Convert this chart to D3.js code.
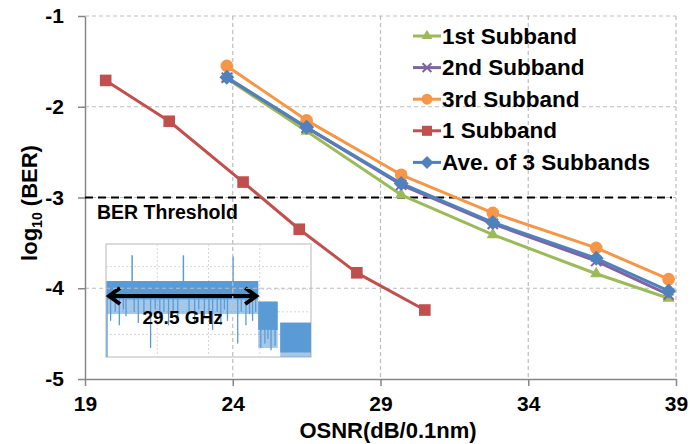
<!DOCTYPE html>
<html><head><meta charset="utf-8">
<script src="https://cdn.jsdelivr.net/npm/d3@7"></script>
<style>body{margin:0;background:#fff}svg{display:block;font-family:"Liberation Sans",Arial,sans-serif;font-weight:bold}</style>
</head><body><svg id="c" width="690" height="444"></svg>
<script>
// ---- data ----
const xTicks = [19, 24, 29, 34, 39];
const yTicks = [-1, -2, -3, -4, -5];
const osnrSub = [23.8, 26.5, 29.7, 32.8, 36.3, 38.75];
const ber1st = [-1.69, -2.27, -2.97, -3.41, -3.84, -4.11];
const ber2nd = [-1.68, -2.23, -2.86, -3.29, -3.70, -4.07];
const ber3rd = [-1.55, -2.15, -2.75, -3.17, -3.555, -3.90];
const osnr1 = [19.7, 21.85, 24.35, 26.25, 28.2, 30.5];
const ber1 = [-1.71, -2.16, -2.83, -3.35, -3.83, -4.24];
const berAve = [-1.675, -2.225, -2.845, -3.275, -3.67, -4.03];
const seriesNames = ["1st Subband", "2nd Subband", "3rd Subband", "1 Subband", "Ave. of 3 Subbands"];
const berThreshold = -3;
const thresholdLabel = "BER Threshold";
// inset spectrum (GHz, dB)
const insetFreqTicks = [0, 10, 20, 30, 40];
const insetPowerTicks = [0, -10, -20, -30, -40, -50];
const bandStart = [0.2, 29.7, 34.0];
const bandEnd = [29.7, 33.5, 40];
const bandTop = [-16.4, -25.5, -34.8];
const bandFloor = [-24.5, -38, -48];
const bandNoise = [-31, -46, -50];
const toneFreq = [5.1, 15.1, 24.8];
const tonePeak = [-5, -5, -5.5];
const dipFreq = [0.2, 0.9, 1.8, 2.6, 3.4, 3.9, 5.5, 6.3, 7.4, 8.7, 9.6, 10.5, 11.3, 12.2, 13.1, 14.0, 16.2, 17.3, 18.1, 19.2, 20.1, 20.8, 21.7, 22.4, 23.1, 23.7, 25.7, 26.4, 27.3, 28.0, 28.6, 29.2, 30.2, 31.0, 31.6, 32.2, 33.0];
const dipDepth = [-50, -34, -30, -36, -29, -32, -30, -35, -31, -46, -29, -33, -30, -36, -31, -34, -30, -35, -29, -32, -31, -38, -30, -36, -29, -34, -44, -30, -36, -31, -34, -30, -46, -44, -42, -47, -45];
const spanLabel = "29.5 GHz";
const spanStart = 0.2, spanEnd = 29.7;

// ---- chart ----
const svg = d3.select("#c");
const x = d3.scaleLinear().domain([19, 39]).range([85, 676]);
const y = d3.scaleLinear().domain([-5, -1]).range([379, 16]);

// inset (drawn first, gridlines over it)
const ix = d3.scaleLinear().domain([0, 40]).range([106, 311]);
const iy = d3.scaleLinear().domain([-50, 0]).range([357, 244]);
const inset = svg.append("g");
inset.append("rect").attr("x", ix(0)).attr("y", iy(0)).attr("width", ix(40) - ix(0)).attr("height", iy(-50) - iy(0))
  .attr("fill", "#fff").attr("stroke", "#cfcfcf").attr("stroke-width", 1.5);
inset.selectAll(".ivg").data(insetFreqTicks.slice(1, -1)).join("line")
  .attr("x1", d => ix(d)).attr("x2", d => ix(d)).attr("y1", iy(0)).attr("y2", iy(-50))
  .attr("stroke", "#d6d6d6").attr("stroke-dasharray", "2,2");
inset.selectAll(".ihg").data(insetPowerTicks.slice(1, -1)).join("line")
  .attr("y1", d => iy(d)).attr("y2", d => iy(d)).attr("x1", ix(0)).attr("x2", ix(40))
  .attr("stroke", "#d6d6d6").attr("stroke-dasharray", "2,2");
const specCol = "#5b9bd5";
bandStart.forEach((s, i) => {
  inset.append("rect").attr("x", ix(s)).attr("width", ix(bandEnd[i]) - ix(s))
    .attr("y", iy(bandTop[i])).attr("height", iy(bandNoise[i]) - iy(bandTop[i]))
    .attr("fill", specCol).attr("opacity", 0.55);
  inset.append("rect").attr("x", ix(s)).attr("width", ix(bandEnd[i]) - ix(s))
    .attr("y", iy(bandTop[i])).attr("height", iy(bandFloor[i]) - iy(bandTop[i]))
    .attr("fill", specCol);
});
dipFreq.forEach((f, i) => {
  const bi = bandStart.findIndex((s, k) => f >= s && f <= bandEnd[k]);
  const top = bi >= 0 ? bandTop[bi] : -30;
  inset.append("line").attr("x1", ix(f)).attr("x2", ix(f)).attr("y1", iy(top)).attr("y2", iy(dipDepth[i]))
    .attr("stroke", specCol).attr("stroke-width", 1.3);
});
toneFreq.forEach((f, i) => {
  inset.append("line").attr("x1", ix(f)).attr("x2", ix(f)).attr("y1", iy(bandTop[0])).attr("y2", iy(tonePeak[i]))
    .attr("stroke", specCol).attr("stroke-width", 1.5);
});
// arrow
const ay = 296;
inset.append("line").attr("x1", ix(spanStart) + 2).attr("x2", ix(spanEnd) - 2).attr("y1", ay).attr("y2", ay)
  .attr("stroke", "#000").attr("stroke-width", 4);
[[ix(spanStart), 1], [ix(spanEnd), -1]].forEach(([px, dir]) => {
  inset.append("path").attr("d", `M${px + dir * 13},${ay - 8} L${px + dir * 2},${ay} L${px + dir * 13},${ay + 8}`)
    .attr("fill", "none").attr("stroke", "#000").attr("stroke-width", 4).attr("stroke-linejoin", "miter");
});
inset.append("text").attr("x", (ix(spanStart) + ix(spanEnd)) / 2).attr("y", 324).attr("text-anchor", "middle")
  .attr("font-size", 19).text(spanLabel);

// gridlines
const gridCol = "#bdbdbd";
svg.append("g").selectAll("line").data(xTicks.slice(1)).join("line")
  .attr("x1", d => x(d)).attr("x2", d => x(d)).attr("y1", y(-1)).attr("y2", y(-5))
  .attr("stroke", gridCol).attr("stroke-width", 1.2).attr("stroke-dasharray", "4,3");
svg.append("g").selectAll("line").data(yTicks.slice(0, -1)).join("line")
  .attr("y1", d => y(d)).attr("y2", d => y(d)).attr("x1", x(19)).attr("x2", x(39))
  .attr("stroke", gridCol).attr("stroke-width", 1.2).attr("stroke-dasharray", "4,3");

// axes
const axCol = "#868686";
const gx = svg.append("g").attr("transform", `translate(0,${y(-5)})`)
  .call(d3.axisBottom(x).tickValues(xTicks).tickSize(7).tickSizeOuter(0).tickPadding(10));
const gy = svg.append("g").attr("transform", `translate(${x(19)},0)`)
  .call(d3.axisLeft(y).tickValues(yTicks).tickSize(7).tickSizeOuter(0).tickPadding(14)
    .tickFormat(d => String(d)));
[gx, gy].forEach(g => {
  g.select(".domain").attr("stroke", axCol).attr("stroke-width", 1.5);
  g.selectAll(".tick line").attr("stroke", axCol).attr("stroke-width", 1.5);
  g.selectAll("text").attr("fill", "#000").attr("font-size", 21).attr("font-weight", "bold")
    .attr("font-family", '"Liberation Sans",Arial,sans-serif');
});
gx.selectAll("text").attr("dy", "0.71em");

// axis titles
svg.append("text").attr("x", 388).attr("y", 438).attr("text-anchor", "middle").attr("font-size", 22)
  .text("OSNR(dB/0.1nm)");
const yt = svg.append("text").attr("transform", "translate(37,203) rotate(-90)").attr("text-anchor", "middle")
  .attr("font-size", 22);
yt.append("tspan").text("log");
yt.append("tspan").attr("font-size", 14).attr("dy", 5).text("10");
yt.append("tspan").attr("dy", -5).text(" (BER)");

// threshold
svg.append("line").attr("x1", x(19)).attr("x2", x(39) - 4).attr("y1", y(berThreshold)).attr("y2", y(berThreshold))
  .attr("stroke", "#000").attr("stroke-width", 2).attr("stroke-dasharray", "8,5");
svg.append("text").attr("x", 97).attr("y", 219).attr("font-size", 19.5).text(thresholdLabel);

// series
const colors = ["#9bbb59", "#8064a2", "#f79646", "#c0504d", "#4f81bd"];
const xs = [osnrSub, osnrSub, osnrSub, osnr1, osnrSub];
const ys = [ber1st, ber2nd, ber3rd, ber1, berAve];
const markers = [
  { t: d3.symbolTriangle, s: 65, fill: true, rot: 0 },
  { t: d3.symbolX, s: 70, fill: false, rot: 0 },
  { t: d3.symbolCircle, s: 125, fill: true, rot: 0 },
  { t: d3.symbolSquare, s: 135, fill: true, rot: 0 },
  { t: d3.symbolSquare, s: 112, fill: true, rot: 45 }
];
const line = d3.line().x(d => x(d[0])).y(d => y(d[1]));
function drawMarker(g, i, px, py, scale) {
  const m = markers[i];
  const p = g.append("path").attr("d", d3.symbol(m.t, m.s * scale)())
    .attr("transform", `translate(${px},${py}) rotate(${m.rot})`);
  if (m.fill) p.attr("fill", colors[i]);
  else p.attr("fill", "none").attr("stroke", colors[i]).attr("stroke-width", 2);
  if (i === 1) g.append("line").attr("x1", px - 5 * scale).attr("x2", px + 5 * scale).attr("y1", py).attr("y2", py)
    .attr("stroke", colors[i]).attr("stroke-width", 2);
}
ys.forEach((vals, i) => {
  const pts = vals.map((v, k) => [xs[i][k], v]);
  const g = svg.append("g");
  g.append("path").attr("d", line(pts)).attr("fill", "none").attr("stroke", colors[i]).attr("stroke-width", 3)
    .attr("stroke-linejoin", "round");
  pts.forEach(p => drawMarker(g, i, x(p[0]), y(p[1]), 1));
});

// legend
const lg = svg.append("g");
seriesNames.forEach((n, i) => {
  const cy = 36 + i * 31.6;
  lg.append("line").attr("x1", 413).attr("x2", 441).attr("y1", cy).attr("y2", cy)
    .attr("stroke", colors[i]).attr("stroke-width", 3);
  drawMarker(lg, i, 427, cy, 0.75);
  lg.append("text").attr("x", 442).attr("y", cy + 7.5).attr("font-size", 22.5).text(n);
});
</script></body></html>
